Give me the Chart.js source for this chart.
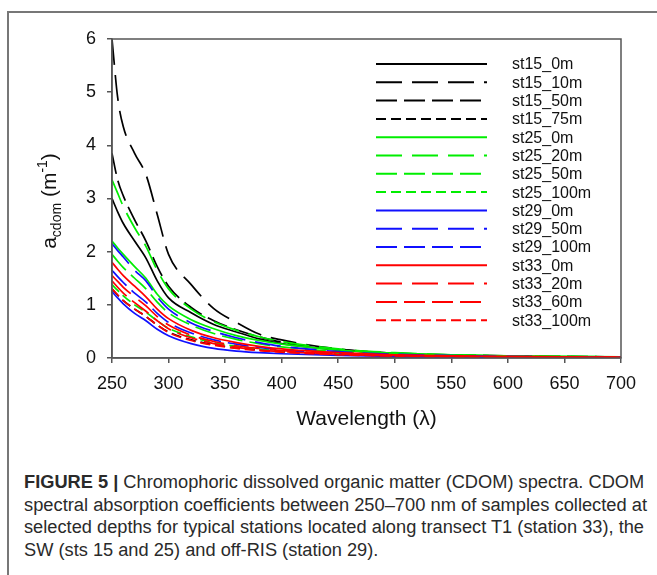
<!DOCTYPE html>
<html lang="en">
<head>
    <meta charset="UTF-8">
    <title>CDOM spectra</title>
    <style>
        body {
            margin: 0;
            padding: 0;
            background-color: #fff;
            width: 657px;
            height: 575px;
            overflow: hidden;
            position: relative;
            font-family: "Liberation Sans", Arial, sans-serif;
        }
        .frame {
            position: absolute;
            left: 7px;
            top: 11px;
            width: 700px;
            height: 700px;
            border-left: 2px solid #777;
            border-top: 2px solid #777;
        }
        #chartBox {
            position: absolute;
            left: 0;
            top: 0;
            width: 657px;
            height: 440px;
        }
        .caption {
            position: absolute;
            left: 24px;
            top: 471px;
            font-family: "Liberation Sans Narrow", "Liberation Sans", Arial, sans-serif;
            font-size: 18px;
            line-height: 22.7px;
            color: #2a2a2a;
        }
        .caption div {
            white-space: nowrap;
            transform-origin: 0 0;
        }
    </style>
    <script src="https://cdn.jsdelivr.net/npm/chart.js"></script>
</head>
<body>
    <div class="frame"></div>
    <div id="chartBox"><canvas id="cdomChart" width="657" height="440"></canvas></div>
    <div class="caption" id="caption">
        <div data-w="621"><b>FIGURE 5 |</b> Chromophoric dissolved organic matter (CDOM) spectra. CDOM</div>
        <div data-w="623">spectral absorption coefficients between 250–700 nm of samples collected at</div>
        <div data-w="621">selected depths for typical stations located along transect T1 (station 33), the</div>
        <div>SW (sts 15 and 25) and off-RIS (station 29).</div>
    </div>
    <script>
        // wavelengths (nm) and absorption values
        const wavelengths = [250, 255, 260, 270, 280, 290, 300, 320, 340, 360, 380, 400, 450, 500, 550, 600, 650, 700];

        const st15_0m   = [3.0, 2.75, 2.53, 2.2, 1.88, 1.45, 1.13, 0.85, 0.63, 0.49, 0.36, 0.27, 0.15, 0.08, 0.05, 0.03, 0.02, 0.01];
        const st15_10m  = [6.0, 4.9, 4.35, 3.85, 3.45, 2.7, 1.95, 1.38, 0.93, 0.67, 0.45, 0.34, 0.17, 0.09, 0.05, 0.03, 0.02, 0.01];
        const st15_50m  = [3.85, 3.35, 3.05, 2.6, 2.2, 1.72, 1.35, 0.95, 0.7, 0.53, 0.4, 0.3, 0.16, 0.09, 0.06, 0.04, 0.03, 0.02];
        const st15_75m  = [1.3, 1.18, 1.08, 0.92, 0.78, 0.62, 0.49, 0.34, 0.25, 0.19, 0.15, 0.12, 0.07, 0.045, 0.03, 0.02, 0.015, 0.01];
        const st25_0m   = [2.2, 2.07, 1.95, 1.72, 1.5, 1.2, 0.98, 0.72, 0.55, 0.42, 0.33, 0.26, 0.15, 0.09, 0.06, 0.04, 0.03, 0.02];
        const st25_20m  = [3.35, 3.1, 2.85, 2.45, 2.1, 1.65, 1.3, 0.92, 0.68, 0.52, 0.4, 0.31, 0.17, 0.1, 0.06, 0.04, 0.03, 0.02];
        const st25_50m  = [1.95, 1.82, 1.7, 1.5, 1.3, 1.05, 0.85, 0.62, 0.46, 0.35, 0.27, 0.21, 0.12, 0.08, 0.05, 0.035, 0.025, 0.015];
        const st25_100m = [1.38, 1.27, 1.17, 1.0, 0.86, 0.7, 0.56, 0.4, 0.29, 0.22, 0.17, 0.13, 0.08, 0.05, 0.035, 0.025, 0.02, 0.01];
        const st29_0m   = [1.25, 1.13, 1.02, 0.84, 0.7, 0.54, 0.42, 0.27, 0.18, 0.13, 0.1, 0.08, 0.05, 0.03, 0.02, 0.01, 0.01, 0.0];
        const st29_50m  = [2.15, 2.02, 1.9, 1.65, 1.45, 1.15, 0.92, 0.66, 0.5, 0.38, 0.29, 0.22, 0.12, 0.07, 0.045, 0.03, 0.02, 0.01];
        const st29_100m = [1.65, 1.53, 1.42, 1.22, 1.05, 0.84, 0.67, 0.47, 0.34, 0.26, 0.2, 0.15, 0.08, 0.05, 0.03, 0.02, 0.01, 0.01];
        const st33_0m   = [1.8, 1.67, 1.55, 1.35, 1.15, 0.92, 0.74, 0.52, 0.38, 0.29, 0.22, 0.17, 0.1, 0.06, 0.04, 0.03, 0.02, 0.01];
        const st33_20m  = [1.55, 1.44, 1.33, 1.15, 0.98, 0.78, 0.62, 0.43, 0.31, 0.23, 0.18, 0.14, 0.08, 0.05, 0.03, 0.02, 0.01, 0.01];
        const st33_60m  = [1.45, 1.33, 1.22, 1.04, 0.88, 0.7, 0.55, 0.38, 0.27, 0.2, 0.15, 0.12, 0.07, 0.04, 0.03, 0.02, 0.01, 0.01];
        const st33_100m = [1.3, 1.19, 1.08, 0.92, 0.78, 0.62, 0.48, 0.33, 0.24, 0.18, 0.14, 0.11, 0.06, 0.04, 0.02, 0.015, 0.01, 0.01];

        const xTicks = [250, 300, 350, 400, 450, 500, 550, 600, 650, 700];
        const yTicks = [0, 1, 2, 3, 4, 5, 6];

        const BLACK = '#000000', GREEN = '#00ee00', BLUE = '#1010ff', RED = '#ff0000';
        const SOLID = [], LONG = [26, 10], MEDIUM = [21, 7], SHORT = [10, 5];

        const series = [
            ['st15_0m', st15_0m, BLACK, SOLID],
            ['st15_10m', st15_10m, BLACK, LONG],
            ['st15_50m', st15_50m, BLACK, MEDIUM],
            ['st15_75m', st15_75m, BLACK, SHORT],
            ['st25_0m', st25_0m, GREEN, SOLID],
            ['st25_20m', st25_20m, GREEN, LONG],
            ['st25_50m', st25_50m, GREEN, MEDIUM],
            ['st25_100m', st25_100m, GREEN, SHORT],
            ['st29_0m', st29_0m, BLUE, SOLID],
            ['st29_50m', st29_50m, BLUE, LONG],
            ['st29_100m', st29_100m, BLUE, MEDIUM],
            ['st33_0m', st33_0m, RED, SOLID],
            ['st33_20m', st33_20m, RED, LONG],
            ['st33_60m', st33_60m, RED, MEDIUM],
            ['st33_100m', st33_100m, RED, SHORT]
        ];

        const datasets = series.map(([label, vals, color, dash], i) => ({
            label: label,
            data: wavelengths.map((w, j) => ({ x: w, y: vals[j] })),
            borderColor: color,
            borderDash: dash,
            borderWidth: 1.7,
            pointRadius: 0,
            fill: false,
            cubicInterpolationMode: 'monotone',
            order: series.length - i // later series drawn on top
        }));

        // plot box, legend and axis titles drawn on the canvas
        const decorations = {
            id: 'decorations',
            afterDraw(chart) {
                const ctx = chart.ctx;
                const a = chart.chartArea;
                ctx.save();

                ctx.strokeStyle = '#555';
                ctx.lineWidth = 1.5;
                ctx.strokeRect(a.left, a.top, a.right - a.left, a.bottom - a.top);

                // legend
                ctx.font = '16px "Liberation Sans", Arial, sans-serif';
                ctx.textBaseline = 'middle';
                ctx.textAlign = 'left';
                chart.data.datasets.forEach((ds, i) => {
                    const y = 64 + i * 18.3;
                    ctx.beginPath();
                    ctx.setLineDash(ds.borderDash);
                    ctx.strokeStyle = ds.borderColor;
                    ctx.lineWidth = 2;
                    ctx.moveTo(376, y);
                    ctx.lineTo(487, y);
                    ctx.stroke();
                    ctx.setLineDash([]);
                    ctx.fillStyle = '#111';
                    ctx.fillText(ds.label, 512, y + 1);
                });

                // x title
                ctx.fillStyle = '#111';
                ctx.font = '21px "Liberation Sans", Arial, sans-serif';
                ctx.textAlign = 'center';
                ctx.fillText('Wavelength (\u03bb)', (a.left + a.right) / 2, 419);

                // y title with subscript and superscript
                const big = '21px "Liberation Sans", Arial, sans-serif';
                const small = '14px "Liberation Sans", Arial, sans-serif';
                const parts = [
                    ['a', big, 0], ['cdom', small, 5], [' (m', big, 0], ['-1', small, -9], [')', big, 0]
                ];
                let total = 0;
                parts.forEach(p => { ctx.font = p[1]; total += ctx.measureText(p[0]).width; });
                ctx.translate(56, 201);
                ctx.rotate(-Math.PI / 2);
                ctx.textAlign = 'left';
                ctx.textBaseline = 'alphabetic';
                let x = -total / 2;
                parts.forEach(p => {
                    ctx.font = p[1];
                    ctx.fillText(p[0], x, p[2]);
                    x += ctx.measureText(p[0]).width;
                });
                ctx.restore();
            }
        };

        const tickFont = { family: '"Liberation Sans", Arial, sans-serif', size: 18 };

        new Chart(document.getElementById('cdomChart'), {
            type: 'line',
            data: { datasets: datasets },
            options: {
                responsive: false,
                animation: false,
                layout: { padding: { left: 0, top: 39, right: 36, bottom: 0 } },
                plugins: {
                    legend: { display: false },
                    tooltip: { enabled: false }
                },
                scales: {
                    x: {
                        type: 'linear',
                        min: xTicks[0],
                        max: xTicks[xTicks.length - 1],
                        afterBuildTicks: axis => { axis.ticks = xTicks.map(v => ({ value: v })); },
                        afterFit: axis => { axis.height = 82; },
                        grid: { drawOnChartArea: false, tickLength: 5, color: '#555', lineWidth: 1.5 },
                        border: { color: '#555', width: 1.5 },
                        ticks: { font: tickFont, color: '#111', padding: 10, maxRotation: 0 }
                    },
                    y: {
                        min: yTicks[0],
                        max: yTicks[yTicks.length - 1],
                        afterBuildTicks: axis => { axis.ticks = yTicks.map(v => ({ value: v })); },
                        afterFit: axis => { axis.width = 112; },
                        grid: { drawOnChartArea: false, tickLength: 5, color: '#555', lineWidth: 1.5 },
                        border: { color: '#555', width: 1.5 },
                        ticks: { font: tickFont, color: '#111', padding: 11 }
                    }
                }
            },
            plugins: [decorations]
        });

        // fit each caption line to the width it has in the printed figure
        const lines = document.querySelectorAll('#caption div');
        let lastScale = 1;
        lines.forEach(el => {
            const target = parseFloat(el.dataset.w);
            if (target) {
                lastScale = target / el.scrollWidth;
            }
            el.style.transform = 'scaleX(' + lastScale + ')';
        });
    </script>
</body>
</html>
